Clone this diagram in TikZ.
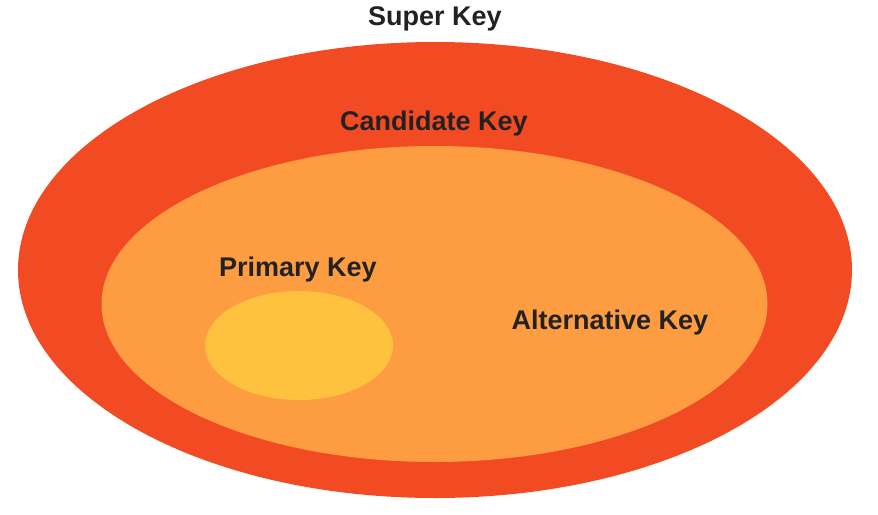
\documentclass[tikz,border=0pt]{standalone}
\usepackage{fontspec}
\setmainfont{Liberation Sans}
\definecolor{outerc}{HTML}{F24A22}
\definecolor{innerc}{HTML}{FD9C41}
\definecolor{smallc}{HTML}{FFC23F}
\definecolor{txt}{HTML}{222222}
\begin{document}
\begin{tikzpicture}[x=1pt,y=-1pt,
  lbl/.style={font=\fontsize{27}{30}\selectfont\bfseries, text=txt, inner sep=0pt}]
\useasboundingbox[fill=white] (0,0) rectangle (878,514);
\fill[outerc] (435,270) ellipse [x radius=417, y radius=228];
\fill[innerc] (434.5,304) ellipse [x radius=333, y radius=158];
\fill[smallc] (299,345.5) ellipse [x radius=94, y radius=54.5];
\node[lbl] (super) at (435,19) {Super Key};
\node[lbl] (cand) at (434,124) {Candidate Key};
\node[lbl] (prim) at (298,270) {Primary Key};
\node[lbl] (alt) at (610,323) {Alternative Key};
\end{tikzpicture}
\end{document}
